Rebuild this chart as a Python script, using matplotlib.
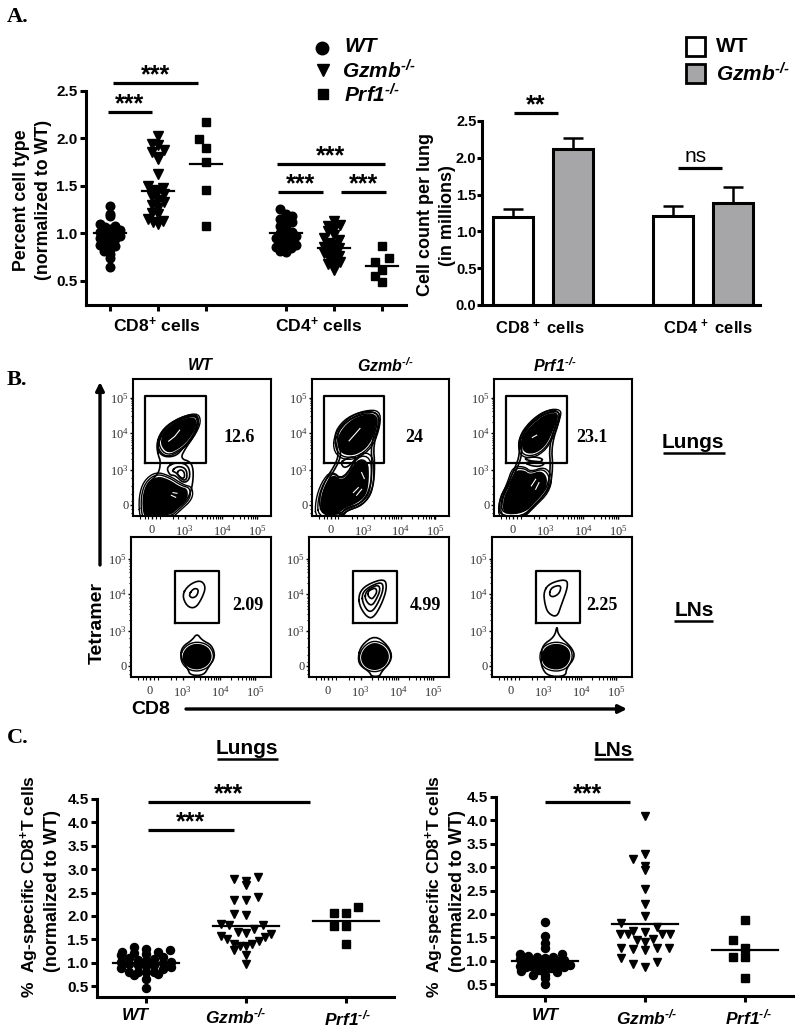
import numpy as np
import matplotlib
matplotlib.use('Agg')
import matplotlib.pyplot as plt

plt.rcParams['font.family'] = ['Liberation Sans', 'DejaVu Sans']
plt.rcParams['mathtext.default'] = 'regular'

# panel A left, percent of cell type
a_groups = [1, 2, 3, 4.667, 5.667, 6.667]
a_cd8_wt = [1.29, 1.20, 1.18, 1.10, 1.08, 1.07, 1.05, 1.04, 1.02, 1.0, 1.0, 0.98, 0.97, 0.95, 0.94, 0.92, 0.90, 0.88, 0.87, 0.85, 0.84, 0.82, 0.78, 0.74, 0.65]
a_cd8_gzmb = [2.03, 1.94, 1.93, 1.88, 1.86, 1.80, 1.78, 1.63, 1.50, 1.48, 1.46, 1.45, 1.42, 1.38, 1.35, 1.33, 1.30, 1.27, 1.22, 1.20, 1.15, 1.13, 1.12, 1.10]
a_cd8_prf1 = [2.17, 1.99, 1.90, 1.75, 1.46, 1.08]
a_cd4_wt = [1.26, 1.21, 1.18, 1.15, 1.14, 1.12, 1.08, 1.05, 1.02, 1.0, 0.98, 0.97, 0.95, 0.93, 0.92, 0.90, 0.88, 0.86, 0.85, 0.84, 0.83, 0.82, 0.81]
a_cd4_gzmb = [1.13, 1.09, 1.08, 1.05, 1.03, 0.98, 0.95, 0.93, 0.90, 0.88, 0.86, 0.85, 0.83, 0.81, 0.79, 0.76, 0.74, 0.72, 0.70, 0.68, 0.65, 0.62]
a_cd4_prf1 = [0.87, 0.74, 0.70, 0.62, 0.55, 0.49]
a_means = [1.0, 1.45, 1.73, 1.0, 0.85, 0.66]

# panel A right, cell counts
bar_pos = [0, 1.5, 4, 5.5]
bar_vals = [1.19, 2.12, 1.21, 1.38]
bar_errs = [0.11, 0.15, 0.14, 0.23]

# panel C
c_lung_wt = [0.45, 0.66, 0.73, 0.75, 0.79, 0.80, 0.81, 0.81, 0.86, 0.88, 0.90, 0.92, 0.95, 0.96, 0.98, 1.0, 1.02, 1.02, 1.04, 1.06, 1.07, 1.09, 1.12, 1.16, 1.18, 1.21, 1.23, 1.23, 1.28, 1.30, 1.34]
c_lung_gzmb = [2.84, 2.75, 2.65, 2.79, 2.41, 2.34, 2.35, 2.04, 2.02, 1.83, 1.80, 1.80, 1.73, 1.66, 1.63, 1.61, 1.57, 1.54, 1.50, 1.47, 1.40, 1.40, 1.36, 1.36, 1.28, 1.16, 0.97]
c_lung_prf1 = [2.20, 2.07, 2.07, 1.79, 1.78, 1.39]
c_ln_wt = [0.51, 0.62, 0.69, 0.70, 0.76, 0.77, 0.80, 0.80, 0.84, 0.86, 0.87, 0.87, 0.87, 0.88, 0.90, 0.92, 0.93, 0.95, 0.97, 1.0, 1.01, 1.01, 1.03, 1.05, 1.08, 1.08, 1.10, 1.15, 1.15, 1.28, 1.37, 1.52, 1.83]
c_ln_gzmb = [4.09, 3.28, 3.18, 3.03, 2.93, 2.54, 2.21, 1.95, 1.80, 1.71, 1.63, 1.62, 1.58, 1.58, 1.57, 1.57, 1.46, 1.44, 1.40, 1.28, 1.28, 1.28, 1.26, 1.22, 1.06, 0.98, 0.93, 0.86]
c_ln_prf1 = [1.87, 1.45, 1.27, 1.08, 1.07, 0.64]
c_lung_means = [1.0, 1.79, 1.88]
c_ln_means = [1.0, 1.79, 1.23]

facs_x_ticks = [57, 155, 268, 373]
facs_y_ticks = [33, 137, 248, 353]
facs_x_labels = ['0', '$10^{3}$', '$10^{4}$', '$10^{5}$']
facs_y_labels = ['0', '$10^{3}$', '$10^{4}$', '$10^{5}$']

wt_lung_outline = [(77, 177), (70, 212), (82, 247), (112, 277), (152, 299), (192, 305), (198, 277), (182, 237), (157, 202), (142, 172), (174, 162), (182, 132), (177, 82), (162, 47), (132, 22), (112, 4), (42, 0), (32, 7), (30, 57), (42, 97), (67, 117), (80, 137), (82, 167)]
wt_lung_core = [[(80, 215), (92, 252), (125, 280), (182, 300), (194, 277), (176, 238), (145, 205), (105, 185)],
                [(32, 7), (30, 57), (42, 97), (72, 120), (107, 110), (142, 87), (164, 82), (165, 52), (132, 22), (112, 4), (42, 0)]]
wt_lung_inner = [[(100, 147), (132, 162), (167, 152), (172, 112), (152, 97), (127, 122), (110, 122)],
                 [(115, 135), (135, 150), (160, 142), (163, 112), (150, 105), (130, 130)],
                 [(130, 128), (142, 140), (154, 132), (155, 115), (146, 112)],
                 [(77, 190), (75, 215), (88, 245), (115, 272), (155, 294), (190, 300), (194, 275), (178, 236), (152, 205), (130, 180), (97, 176)]]
wt_lung_white = [[(107, 224), (125, 238), (140, 257)], [(115, 62), (128, 56)], [(120, 70), (132, 68)]]
gz_lung_outline = [(30, 2), (20, 52), (40, 107), (75, 162), (80, 192), (65, 242), (95, 287), (145, 312), (195, 312), (207, 282), (185, 212), (190, 152), (185, 82), (155, 32), (105, 17), (95, 0)]
gz_lung_core = [[(75, 207), (80, 247), (115, 287), (155, 304), (193, 304), (195, 267), (175, 212), (135, 182), (95, 182)],
                [(25, 7), (25, 52), (40, 97), (65, 127), (95, 102), (135, 172), (170, 167), (173, 112), (165, 62), (135, 37), (95, 22), (75, 0)]]
gz_lung_inner = [[(38, 8), (28, 52), (47, 104), (82, 162), (88, 192), (73, 242), (100, 281), (148, 305), (190, 305), (199, 280), (178, 212), (182, 152), (177, 84), (150, 38), (100, 23), (88, 6)],
                 [(85, 160), (105, 172), (125, 178), (135, 172), (100, 140)]]
gz_lung_white = [[(112, 225), (130, 245), (145, 262)], [(150, 130), (158, 112)], [(125, 70), (140, 85)], [(135, 62), (150, 80)]]
pf_lung_outline = [(12, 0), (19, 57), (42, 97), (62, 142), (77, 182), (75, 237), (107, 282), (152, 315), (189, 317), (200, 297), (172, 212), (177, 142), (167, 82), (127, 37), (97, 7), (87, 0)]
pf_lung_core = [[(82, 212), (87, 242), (117, 277), (157, 307), (189, 307), (189, 287), (162, 217), (127, 187), (92, 187)],
                [(27, 52), (47, 92), (62, 137), (92, 137), (107, 124), (142, 137), (162, 112), (152, 72), (117, 37), (87, 7), (27, 4)]]
pf_lung_inner = [[(25, 55), (48, 99), (69, 142), (84, 182), (82, 235), (110, 275), (154, 308), (185, 310), (192, 295), (165, 212), (170, 142), (160, 84), (122, 42), (92, 12), (22, 6)],
                 [(88, 172), (110, 165), (135, 160), (150, 170), (120, 178)],
                 [(92, 160), (112, 150), (138, 148), (155, 158), (125, 165)]]
pf_lung_white = [[(115, 235), (128, 242)], [(112, 90), (125, 110)], [(125, 80), (135, 100)]]

wt_ln_outline = [(148, 60), (153, 90), (183, 110), (198, 130), (213, 110), (243, 95), (253, 60), (233, 30), (218, 5), (178, 5), (170, 25)]
wt_ln_core = [[(151, 60), (166, 90), (198, 102), (233, 90), (245, 60), (230, 32), (198, 20), (166, 30)]]
wt_ln_inner = [[(153, 245), (173, 275), (208, 290), (225, 270), (213, 235), (193, 205), (168, 210)],
               [(173, 245), (188, 265), (203, 262), (198, 242), (183, 235)]]
gz_ln_outline = [(147, 60), (157, 95), (197, 125), (237, 95), (252, 55), (217, 15), (212, 2), (187, 2), (182, 15), (152, 35)]
gz_ln_core = [[(153, 60), (168, 90), (197, 105), (230, 90), (243, 60), (228, 30), (197, 18), (165, 30)]]
gz_ln_inner = [[(150, 215), (150, 250), (172, 275), (227, 295), (234, 265), (217, 215), (192, 175), (172, 180)],
               [(160, 225), (160, 250), (178, 268), (218, 285), (224, 263), (208, 222), (190, 195), (174, 198)],
               [(168, 235), (170, 252), (182, 264), (208, 276), (214, 260), (202, 232), (190, 214), (178, 218)],
               [(176, 243), (178, 256), (188, 262), (200, 266), (204, 254), (196, 240), (188, 232)]]
pf_ln_outline = [(148, 60), (151, 95), (188, 120), (195, 155), (198, 125), (238, 90), (250, 60), (223, 25), (221, 2), (168, 2), (148, 30)]
pf_ln_core = [[(146, 60), (158, 90), (193, 102), (228, 90), (238, 60), (223, 30), (193, 20), (158, 30)]]
pf_ln_inner = [[(155, 255), (173, 280), (223, 293), (228, 270), (208, 215), (195, 178), (168, 190), (158, 220)],
               [(171, 245), (178, 268), (208, 275), (203, 250), (183, 238)]]

# gates as (x0, x1, y0, y1)
gate_lung = (35, 219, 160, 360)
gate_ln = (133, 263, 160, 317)

serif = ['Liberation Serif', 'DejaVu Serif']
KO = '$^{\u2010/\u2010}$'
LW = 2.2


def panel(l, t, r, b):
    # axes from pixel edges of the 800x1030 picture
    ax = fig.add_axes([l / 800, 1 - b / 1030, (r - l) / 800, (b - t) / 1030])
    return ax


def style_axes(ax):
    ax.spines['top'].set_visible(False)
    ax.spines['right'].set_visible(False)
    ax.spines['left'].set_linewidth(LW)
    ax.spines['bottom'].set_linewidth(LW)
    ax.tick_params(width=LW, length=4.5, labelsize=11)
    for lab in ax.get_yticklabels():
        lab.set_fontweight('bold')
    ax.tick_params(axis='y', pad=1.5)


def swarm(values, binw, step, limit):
    # centre, left, right... inside each value bin, like Prism does
    vals = np.sort(np.array(values))
    bins = np.floor(vals / binw)
    offs = np.zeros(len(vals))
    for b in np.unique(bins):
        idx = np.where(bins == b)[0]
        m = max(len(idx) // 2, 1)
        s = min(step, limit / m)
        for k, i in enumerate(idx):
            n = (k + 1) // 2
            offs[i] = -n * s if k % 2 == 1 else n * s
    return vals, offs


def scatter_group(ax, pos, values, mean, marker, size, binw, step, limit, half=0.33):
    vals, offs = swarm(values, binw, step, limit)
    ax.plot(pos + offs, vals, ls='none', marker=marker, ms=size, mfc='k', mec='k', clip_on=False, zorder=3)
    ax.plot([pos - half, pos + half], [mean, mean], color='k', lw=1.6, zorder=4, clip_on=False)


def chaikin(points, rounds=2):
    pts = np.array(points, dtype=float)
    for _ in range(rounds):
        nxt = np.roll(pts, -1, axis=0)
        pts = np.column_stack([0.75 * pts + 0.25 * nxt, 0.25 * pts + 0.75 * nxt]).reshape(-1, 2)
    return np.vstack([pts, pts[:1]])


def facs(ax, outline, cores, inners, gate, w, h, whites=(), rings=(1.12,)):
    ax.set_xlim(0, w)
    ax.set_ylim(0, h)
    for s in ax.spines.values():
        s.set_linewidth(1.5)
    ol = chaikin(outline)
    ax.plot(ol[:, 0], ol[:, 1], color='k', lw=1.2)
    for c in inners:
        p = chaikin(c)
        ax.plot(p[:, 0], p[:, 1], color='k', lw=1.2)
    for c in cores:
        p = chaikin(c)
        ax.fill(p[:, 0], p[:, 1], color='k', lw=0)
        mid = p.mean(axis=0)
        for r in rings:
            q = mid + (p - mid) * r
            ax.plot(q[:, 0], q[:, 1], color='k', lw=1.0)
    for c in whites:
        p = np.array(c)
        ax.plot(p[:, 0], p[:, 1], color='white', lw=0.8)
    ax.plot([gate[0], gate[1], gate[1], gate[0], gate[0]],
            [gate[2], gate[2], gate[3], gate[3], gate[2]], color='k', lw=1.6, zorder=5)
    ax.set_xticks(facs_x_ticks)
    ax.set_yticks(facs_y_ticks)
    ax.set_xticklabels(facs_x_labels, family=serif, fontsize=9, color='#333333')
    ax.set_yticklabels(facs_y_labels, family=serif, fontsize=9, color='#333333')
    minor_x = [t + 110 * np.log10(m) for t in facs_x_ticks[1:-1] for m in range(2, 10)] + [20, 35, 45, 70, 80, 120, 135]
    minor_y = [t + 108 * np.log10(m) for t in facs_y_ticks[1:-1] for m in range(2, 10)] + [8, 20, 45, 65, 90, 115]
    ax.set_xticks([m for m in minor_x if m < w], minor=True)
    ax.set_yticks([m for m in minor_y if m < h], minor=True)
    ax.tick_params(which='major', length=2.5, width=1)
    ax.tick_params(axis='x', which='major', pad=3)
    ax.tick_params(axis='y', which='major', pad=0.3)
    ax.tick_params(which='minor', length=1.8, width=0.8)


fig = plt.figure(figsize=(8, 10.3), dpi=100)

# A left
ax = panel(86, 91, 406, 305)
ax.set_xlim(0.5, 7.167)
ax.set_ylim(0.247, 2.5)
ax.set_yticks([0.5, 1.0, 1.5, 2.0, 2.5])
ax.set_xticks(a_groups)
ax.set_xticklabels([])
style_axes(ax)
scatter_group(ax, a_groups[0], a_cd8_wt, a_means[0], 'o', 6.2, 0.075, 0.135, 0.21)
scatter_group(ax, a_groups[1], a_cd8_gzmb, a_means[1], 'v', 7, 0.09, 0.13, 0.21)
scatter_group(ax, a_groups[2], a_cd8_prf1, a_means[2], 's', 5.6, 0.2, 0.14, 0.21)
scatter_group(ax, a_groups[3], a_cd4_wt, a_means[3], 'o', 6.2, 0.075, 0.135, 0.21)
scatter_group(ax, a_groups[4], a_cd4_gzmb, a_means[4], 'v', 7, 0.08, 0.13, 0.21)
scatter_group(ax, a_groups[5], a_cd4_prf1, a_means[5], 's', 5.6, 0.15, 0.14, 0.21)

# A right
ax = panel(482, 121, 760, 305)
ax.set_xlim(-0.775, 6.175)
ax.set_ylim(0, 2.5)
ax.bar(bar_pos, bar_vals, width=0.98, color=['white', '#a6a6a8', 'white', '#a6a6a8'], edgecolor='k', linewidth=2.2, zorder=2)
ax.errorbar(bar_pos, bar_vals, yerr=[[0] * 4, bar_errs], fmt='none', ecolor='k', elinewidth=1.8, capsize=7, capthick=1.8, zorder=1)
ax.set_yticks([0, 0.5, 1.0, 1.5, 2.0, 2.5])
ax.set_yticklabels(['0.0', '0.5', '1.0', '1.5', '2.0', '2.5'])
ax.set_xticks([])
style_axes(ax)
ax.tick_params(axis='y', labelsize=10.5, length=3.5, pad=0.5)

# B flow plots
top = (379, 516)
bot = (537, 677)
cols_top = [(133, 271), (312, 449), (494, 632)]
cols_bot = [(131, 271), (309, 449), (492, 632)]
lung_sets = [(wt_lung_outline, wt_lung_core, wt_lung_inner, wt_lung_white), (gz_lung_outline, gz_lung_core, gz_lung_inner, gz_lung_white), (pf_lung_outline, pf_lung_core, pf_lung_inner, pf_lung_white)]
ln_sets = [(wt_ln_outline, wt_ln_core, wt_ln_inner), (gz_ln_outline, gz_ln_core, gz_ln_inner), (pf_ln_outline, pf_ln_core, pf_ln_inner)]
for (l, r), s in zip(cols_top, lung_sets):
    ax = panel(l, top[0], r, top[1])
    facs(ax, s[0], s[1], s[2], gate_lung, 414, 410, whites=s[3], rings=(1.1, 1.2))
for (l, r), s in zip(cols_bot, ln_sets):
    ax = panel(l, bot[0], r, bot[1])
    facs(ax, s[0], s[1], s[2], gate_ln, 420, 418)

# C lungs
ax = panel(97, 799, 394, 997)
ax.set_xlim(0.51, 3.48)
ax.set_ylim(0.265, 4.5)
ax.set_yticks([0.5, 1.0, 1.5, 2.0, 2.5, 3.0, 3.5, 4.0, 4.5])
ax.set_xticks([1, 2, 3])
ax.set_xticklabels([])
style_axes(ax)
scatter_group(ax, 1, c_lung_wt, c_lung_means[0], 'o', 5.8, 0.13, 0.12, 0.25)
scatter_group(ax, 2, c_lung_gzmb, c_lung_means[1], 'v', 6, 0.27, 0.12, 0.25)
scatter_group(ax, 3, c_lung_prf1, c_lung_means[2], 's', 5.6, 0.33, 0.12, 0.25)

# C LNs
ax = panel(496, 797, 793, 996)
ax.set_xlim(0.51, 3.48)
ax.set_ylim(0.245, 4.5)
ax.set_yticks([0.5, 1.0, 1.5, 2.0, 2.5, 3.0, 3.5, 4.0, 4.5])
ax.set_xticks([1, 2, 3])
ax.set_xticklabels([])
style_axes(ax)
scatter_group(ax, 1, c_ln_wt, c_ln_means[0], 'o', 5.8, 0.13, 0.12, 0.25)
scatter_group(ax, 2, c_ln_gzmb, c_ln_means[1], 'v', 6, 0.27, 0.12, 0.25)
scatter_group(ax, 3, c_ln_prf1, c_ln_means[2], 's', 5.6, 0.3, 0.12, 0.25)

# overlay for labels, legends and brackets, in picture pixels
ov = fig.add_axes([0, 0, 1, 1], zorder=10)
ov.set_xlim(0, 800)
ov.set_ylim(1030, 0)
ov.axis('off')


def label(x, y, s, size=11, weight='bold', style='normal', family=None, rot=0, ha='center'):
    ov.text(x, y, s, fontsize=size, fontweight=weight, fontstyle=style, family=family or plt.rcParams['font.family'],
            rotation=rot, ha=ha, va='center', rotation_mode='anchor')


def bracket(x0, x1, y, s='***', lw=2.3):
    ov.plot([x0, x1], [y, y], color='k', lw=lw, solid_capstyle='butt')
    if s:
        label((x0 + x1) / 2, y - 8, s, size=18)


def under(x0, x1, y):
    ov.plot([x0, x1], [y, y], color='k', lw=1.8, solid_capstyle='butt')


for x, y, s in [(7, 17, 'A.'), (7, 380, 'B.'), (7, 738, 'C.')]:
    label(x, y, s, size=16, family=serif, ha='left')

# A legend
ov.plot([322], [48], 'o', color='k', ms=9)
ov.plot([323], [70], 'v', color='k', ms=9)
ov.plot([323], [94], 's', color='k', ms=7.5)
label(344, 47, 'WT', size=15, style='italic', ha='left')
label(342, 71, 'Gzmb' + KO, size=15, style='italic', ha='left')
label(344, 95, 'Prf1' + KO, size=15, style='italic', ha='left')
label(22, 200, 'Percent cell type', size=12.8, rot=90)
label(44, 200, '(normalized to WT)', size=12.8, rot=90)
label(157, 325, 'CD8$^{+}$ cells', size=12.6)
label(319, 325, 'CD4$^{+}$ cells', size=12.6)
bracket(113, 198, 83)
bracket(108, 152, 112)
bracket(277, 385, 164)
bracket(278, 323, 192)
bracket(341, 386, 192)

# bar legend
ov.fill([686, 705, 705, 686], [37, 37, 56, 56], fc='white', ec='k', lw=2)
ov.fill([686, 705, 705, 686], [64, 64, 83, 83], fc='#a6a6a8', ec='k', lw=2)
label(716, 47, 'WT', size=15, ha='left')
label(716, 74, 'Gzmb' + KO, size=15, style='italic', ha='left')
label(425, 215, 'Cell count per lung', size=13, rot=90)
label(448, 216, '(in millions)', size=13, rot=90)
label(540, 327, 'CD8$^{\\,+}$ cells', size=12)
label(708, 327, 'CD4$^{\\,+}$ cells', size=12)
bracket(514, 558, 113, '**')
bracket(678, 722, 168, '')
label(696, 156, 'ns', size=15, weight='normal')

# B labels
for x, s in [(200, 'WT'), (385, 'Gzmb' + KO), (555, 'Prf1' + KO)]:
    label(x, 366, s, size=11.5, style='italic')
for x, y, s in [(239, 438, '12.6'), (414, 438, '24'), (592, 437, '23.1'), (248, 606, '2.09'), (425, 606, '4.99'), (602, 606, '2.25')]:
    label(x, y, s, size=13, family=serif)
label(693, 443, 'Lungs', size=15)
under(663, 725, 453)
label(694, 611, 'LNs', size=15)
under(674, 713, 621)
label(97, 623, 'Tetramer', size=14, rot=90)
label(151, 709, 'CD8', size=14)
ov.annotate('', xy=(100, 382), xytext=(100, 565), arrowprops=dict(arrowstyle='-|>', color='k', lw=2.4, mutation_scale=12, shrinkA=0, shrinkB=0))
ov.annotate('', xy=(627, 709), xytext=(186, 709), arrowprops=dict(arrowstyle='-|>', color='k', lw=2.4, mutation_scale=12, shrinkA=0, shrinkB=0))

# C labels
label(247, 749, 'Lungs', size=15)
under(217, 278, 759)
label(613, 750, 'LNs', size=15)
under(594, 633, 759)
label(30, 887, '%  Ag-specific CD8$^{+}$T cells', size=12.6, rot=90)
label(53, 891, '(normalized to WT)', size=13, rot=90)
label(435, 887, '%  Ag-specific CD8$^{+}$T cells', size=12.6, rot=90)
label(457, 891, '(normalized to WT)', size=13, rot=90)
for x, y, s in [(135, 1016, 'WT'), (236, 1016, 'Gzmb' + KO), (348, 1018, 'Prf1' + KO), (545, 1015, 'WT'), (647, 1017, 'Gzmb' + KO), (749, 1017, 'Prf1' + KO)]:
    label(x, y, s, size=12.5, style='italic')
bracket(148, 234, 830)
bracket(148, 310, 802)
bracket(545, 630, 802)

fig.savefig('out.png', dpi=100)
